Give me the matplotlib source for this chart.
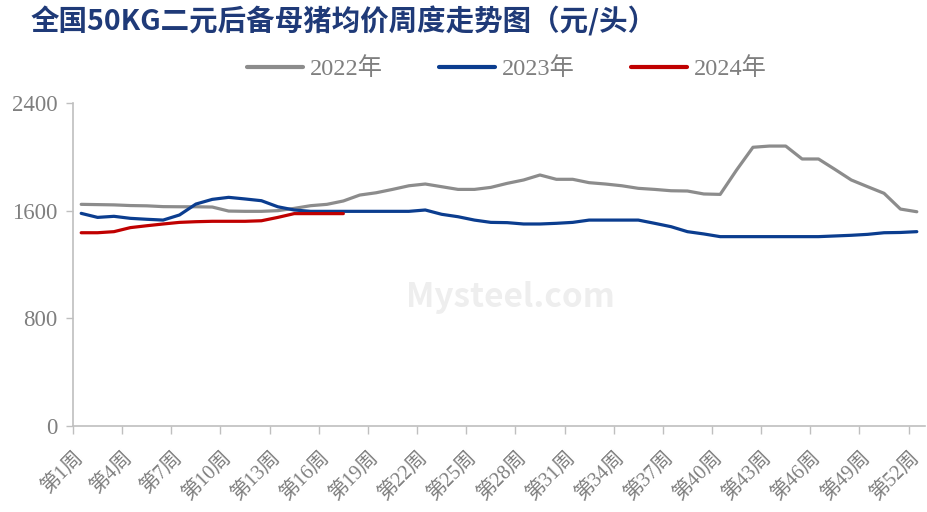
import matplotlib
matplotlib.use("Agg")
import matplotlib.pyplot as plt
from matplotlib.ticker import FixedLocator
from matplotlib.transforms import ScaledTranslation

weeks = list(range(1, 53))
week_labels = [f"第{w}周" for w in weeks]
label_weeks = list(range(1, 53, 3))

y2022 = [1647, 1645, 1643, 1638, 1636, 1630, 1629, 1629, 1627, 1597,
         1595, 1595, 1600, 1617, 1637, 1647, 1672, 1716, 1733, 1758,
         1785, 1798, 1778, 1758, 1758, 1773, 1803, 1828, 1865, 1833,
         1833, 1808, 1798, 1785, 1766, 1758, 1748, 1746, 1724, 1721,
         1902, 2071, 2080, 2080, 1984, 1984, 1907, 1828, 1778, 1729,
         1612, 1592]
y2023 = [1580, 1550, 1558, 1543, 1536, 1530, 1568, 1649, 1684, 1699,
         1687, 1674, 1629, 1605, 1595, 1595, 1595, 1595, 1595, 1595,
         1595, 1605, 1573, 1555, 1530, 1513, 1511, 1501, 1501, 1506,
         1513, 1530, 1530, 1530, 1530, 1506, 1481, 1444, 1427, 1407,
         1407, 1407, 1407, 1407, 1407, 1407, 1412, 1417, 1424, 1436,
         1438, 1444]
y2024 = [1436, 1436, 1444, 1474, 1488, 1501, 1513, 1518, 1521, 1521,
         1521, 1525, 1550, 1578, 1578, 1578, 1578]

series = [("2022年", y2022, "#8c8c8c"),
          ("2023年", y2023, "#0b3d8f"),
          ("2024年", y2024, "#c00000")]

title = "全国50KG二元后备母猪均价周度走势图（元/头）"
yticks = [0, 800, 1600, 2400]

serif = ["Liberation Serif", "Noto Sans CJK SC"]
sans = ["Noto Sans CJK SC", "DejaVu Sans"]
tick_color = "#7f7f7f"
axis_color = "#bfbfbf"

fig = plt.figure(figsize=(9.28, 5.12), dpi=100)
ax = fig.add_axes([73 / 928, 1 - 426 / 512, (925 - 73) / 928, (426 - 103) / 512])

for name, vals, col in series:
    ax.plot(weeks[:len(vals)], vals, color=col, lw=2.3, label=name,
            solid_capstyle="round", solid_joinstyle="round")

ax.set_xlim(0.5, 52.5)
ax.set_ylim(0, 2400)
ax.set_yticks(yticks)
ax.set_yticklabels([str(v) for v in yticks], family=serif, fontsize=16.5, color=tick_color)

ax.set_xticks(label_weeks)
ax.set_xticklabels([week_labels[w - 1] for w in label_weeks], rotation=45,
                   ha="right", va="center", rotation_mode="anchor", family=serif,
                   fontsize=14.5, color=tick_color)
shift = ScaledTranslation(-5 / 100, 0, fig.dpi_scale_trans)
for lab in ax.get_xticklabels():
    lab.set_transform(lab.get_transform() + shift)
ax.xaxis.set_minor_locator(FixedLocator([w - 0.5 for w in label_weeks]))
ax.tick_params(axis="x", which="major", length=0, pad=21)
ax.tick_params(axis="x", which="minor", length=6, width=1, color=axis_color, direction="out")
ax.tick_params(axis="y", length=5, width=1, color=axis_color, direction="out", pad=6)

for s in ["top", "right"]:
    ax.spines[s].set_visible(False)
for s in ["left", "bottom"]:
    ax.spines[s].set_color(axis_color)
    ax.spines[s].set_linewidth(1.2)

# faint watermark
fig.text(510 / 928, 1 - 298 / 512, "Mysteel.com", fontsize=24, fontweight="bold",
         color="#eeeeee", ha="center", va="center", family=sans, zorder=0)

fig.text(31 / 928, 1 - 21 / 512, title, fontsize=20.5, fontweight="bold",
         color="#1f3a78", ha="left", va="center", family=sans)

leg = fig.legend(loc="center", bbox_to_anchor=(507 / 928, 1 - 69 / 512), ncol=3,
                 frameon=False, handlelength=2.3, handletextpad=0.3,
                 columnspacing=2.3, prop={"family": serif, "size": 17.5})
for t in leg.get_texts():
    t.set_color(tick_color)
for l in leg.get_lines():
    l.set_linewidth(3)

fig.savefig("out.png", dpi=100)
